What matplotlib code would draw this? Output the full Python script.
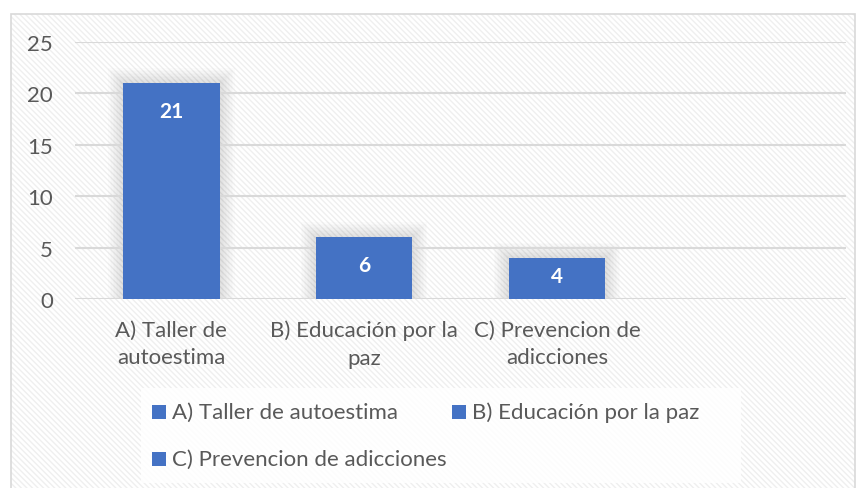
import matplotlib.pyplot as plt
from matplotlib.patches import Rectangle

categories = ["A) Taller de\nautoestima", "B) Educación por la\npaz", "C) Prevencion de\nadicciones", ""]
values = [21, 6, 4, None]
legend_labels = ["A) Taller de autoestima", "B) Educación por la paz", "C) Prevencion de adicciones"]

blue = "#4472c4"
grey_text = "#595959"
plt.rcParams["font.family"] = ["Lato", "DejaVu Sans"]
plt.rcParams["hatch.linewidth"] = 1.0

W, H = 863, 489
fig = plt.figure(figsize=(W / 100, H / 100), dpi=100)

# hatched chart-area background with border
bg = Rectangle((11 / W, 0), 844 / W, (H - 15) / H, transform=fig.transFigure,
               facecolor="white", edgecolor="#efefef", hatch="\\\\\\\\\\\\", lw=0, zorder=-3)
fig.patches.append(bg)
border = Rectangle((11 / W, -0.01), 844 / W, (H - 15) / H + 0.01, transform=fig.transFigure,
                   facecolor="none", edgecolor="#d9d9d9", lw=1.2, zorder=-2)
fig.patches.append(border)

ax = fig.add_axes([75 / W, 1 - 300 / H, 771 / W, 257 / H])
ax.patch.set_alpha(0)

x = list(range(len(categories)))
vals = [v if v is not None else 0 for v in values]

# soft shadow around bars
px_x = 4 / 771
px_y = 25 / 257
for i, v in enumerate(values):
    if v is None:
        continue
    for k in range(1, 11):
        p = 1.5 * k
        ax.add_patch(Rectangle((i - 0.25 - p * px_x, 0), 0.5 + 2 * p * px_x, v + p * px_y,
                               facecolor="black", alpha=0.012, lw=0, zorder=1.5))

ax.bar(x, vals, width=0.5, color=blue, zorder=3)
for i, v in enumerate(values):
    if v is None:
        continue
    # inside-end label, pulled toward the middle on short bars
    ly = max(v - 2.7, v / 2 + 0.25)
    ax.text(i, ly, str(v), ha="center", va="center", color="white",
            fontsize=15, fontweight="bold", zorder=4)

ax.set_xlim(-0.5, 3.5)
ax.set_ylim(0, 25)
ax.set_yticks([0, 5, 10, 15, 20, 25])
ax.set_xticks(x)
ax.set_xticklabels(categories, fontsize=16, color=grey_text, linespacing=1.45)
ax.tick_params(axis="y", labelsize=16, labelcolor=grey_text, length=0, pad=16)
ax.tick_params(axis="x", length=0, pad=15)
ax.grid(axis="y", color="#d9d9d9", lw=1.5, zorder=0)
for s in ax.spines.values():
    s.set_visible(False)

# legend drawn by hand: Excel lays it out row-wise with A/B on one row
def fx(px):
    return px / W

def fy(py):
    return 1 - py / H

fig.patches.append(Rectangle((fx(141), fy(484)), fx(600), 95 / H, transform=fig.transFigure,
                             facecolor="white", alpha=0.85, lw=0, zorder=5))
legend_pos = [(152, 413), (452, 413), (152, 460)]
for (lx, ly), lab in zip(legend_pos, legend_labels):
    fig.patches.append(Rectangle((fx(lx), fy(ly + 7)), 14 / W, 14 / H,
                                 transform=fig.transFigure, facecolor=blue, lw=0, zorder=6))
    fig.text(fx(lx + 20), fy(ly), lab, fontsize=16, color=grey_text,
             ha="left", va="center", zorder=7)

fig.savefig("out.png", dpi=100)
